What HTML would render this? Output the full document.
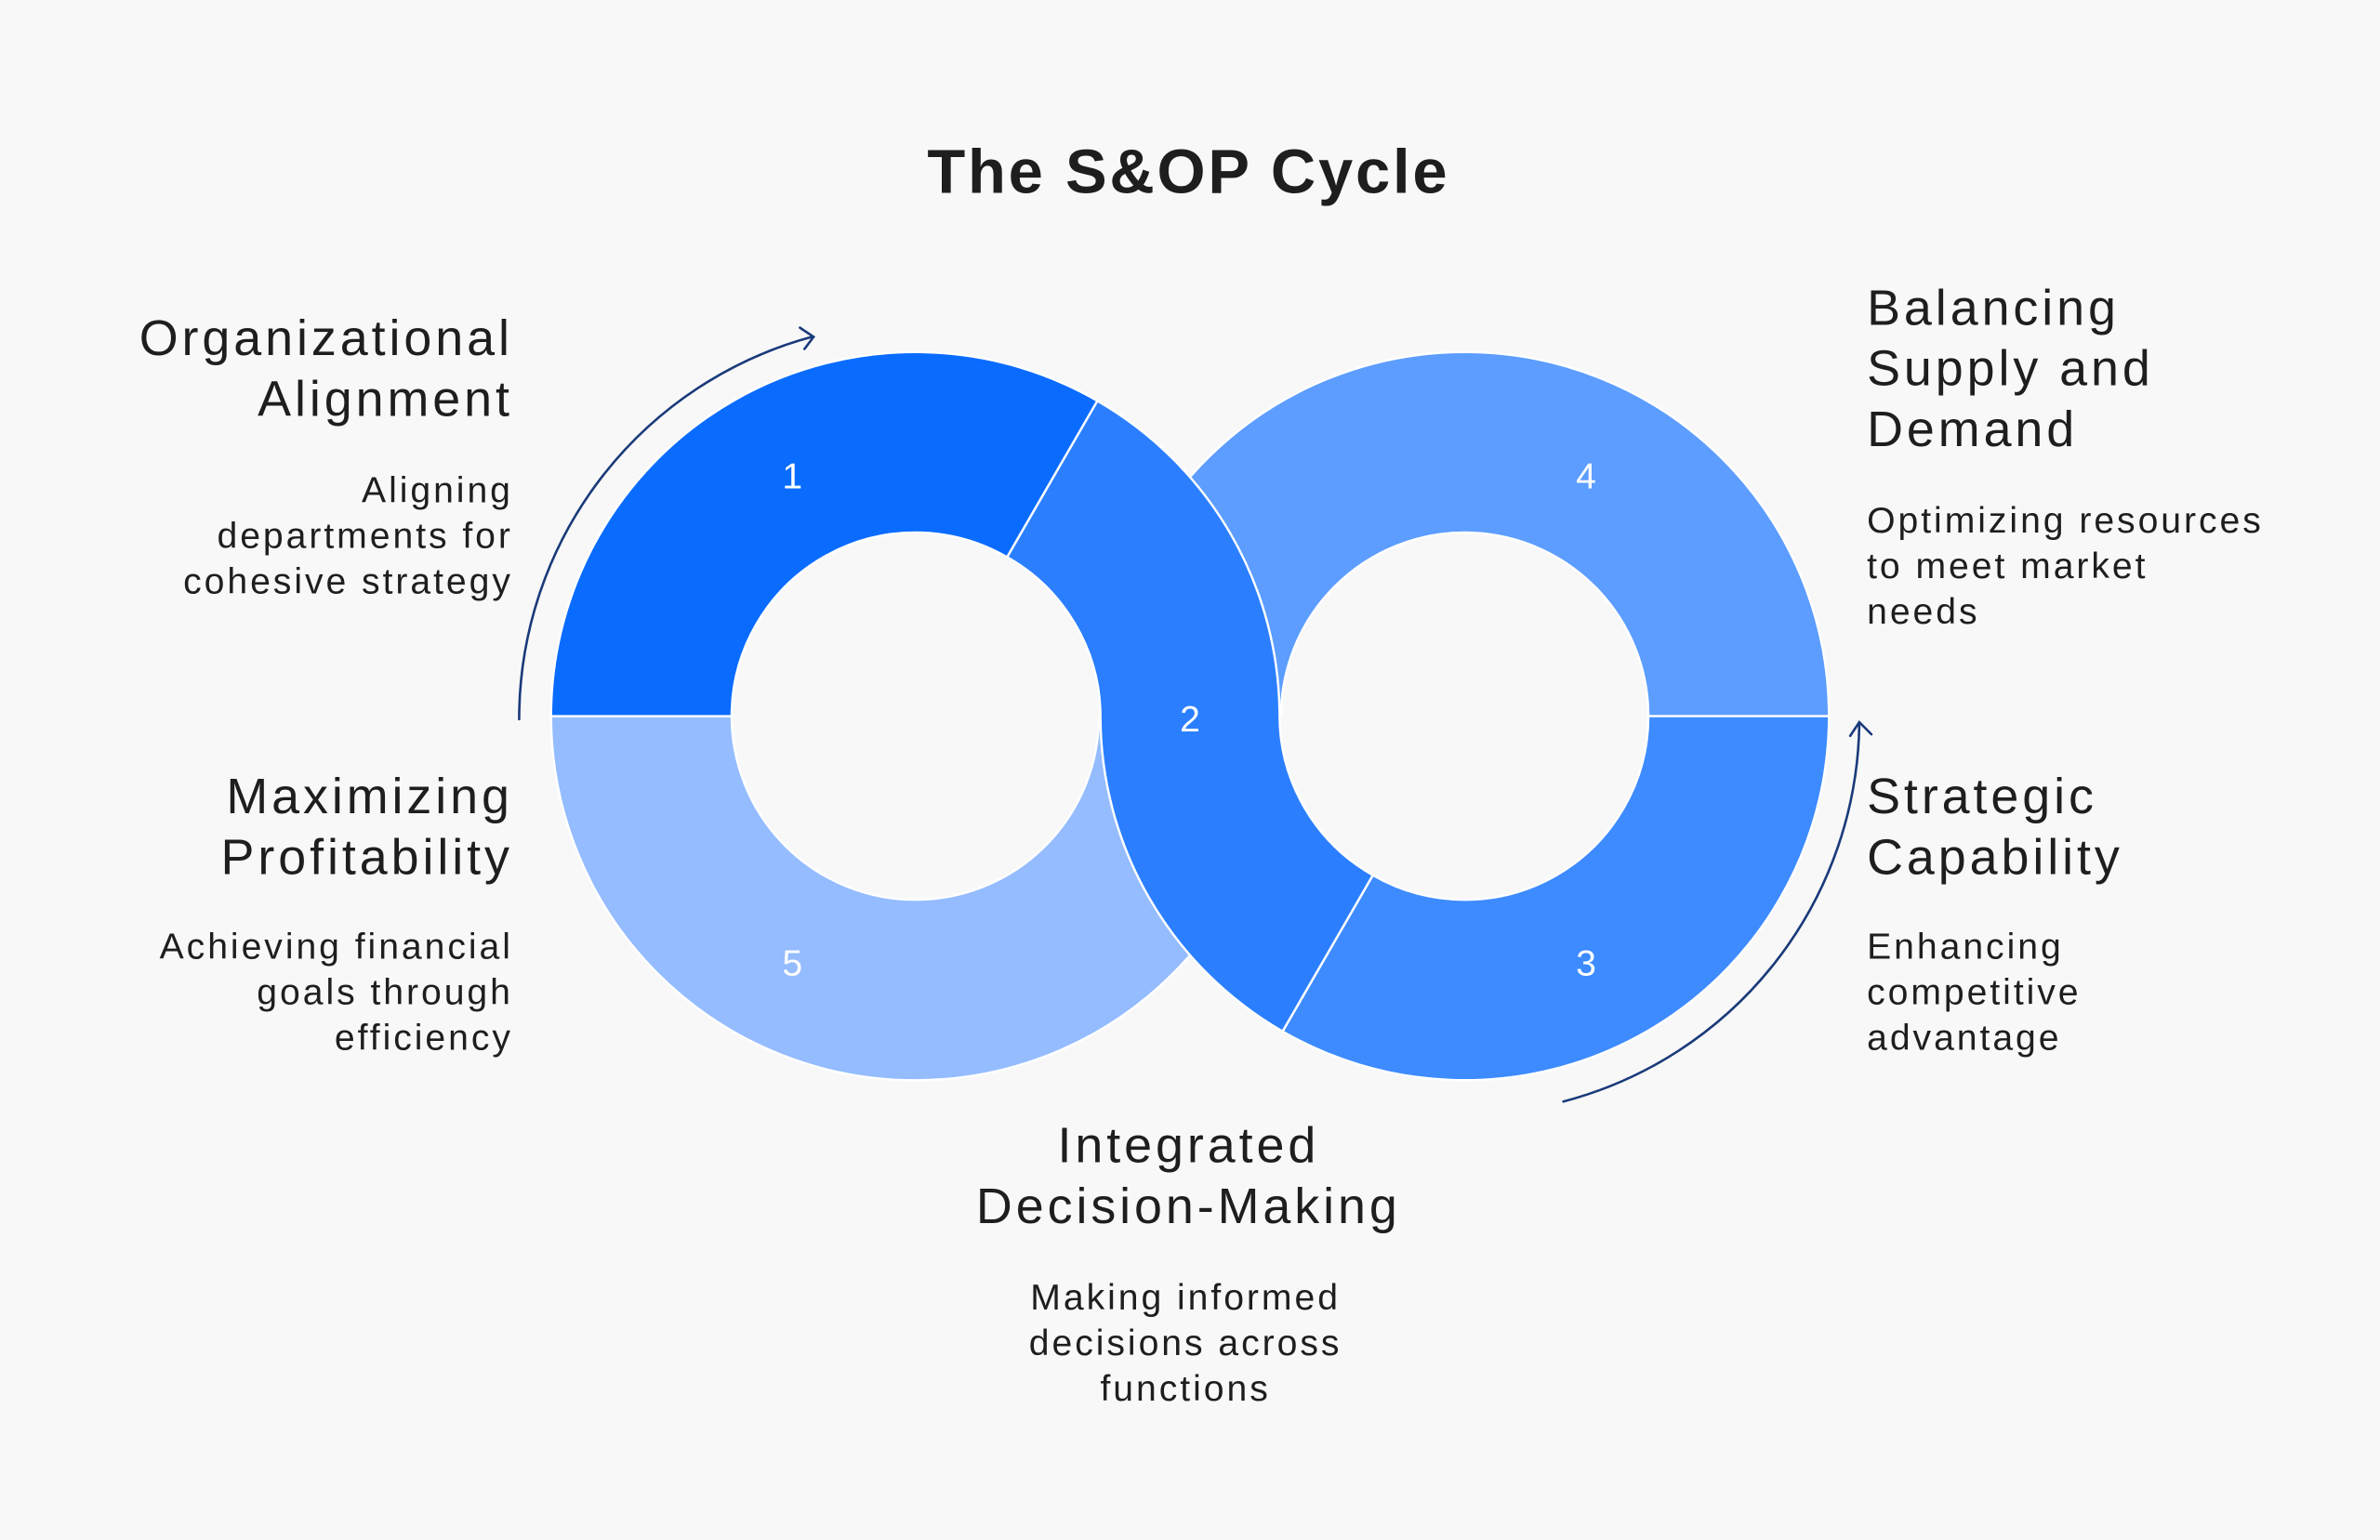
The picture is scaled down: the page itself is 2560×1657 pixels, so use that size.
<!DOCTYPE html>
<html><head><meta charset="utf-8"><style>
html,body{margin:0;padding:0;background:#f8f8f8;}
svg{display:block;}
text{font-family:"Liberation Sans",sans-serif;}
</style></head><body>
<svg width="2560" height="1657" viewBox="0 0 1568 1015" xmlns="http://www.w3.org/2000/svg">
<rect width="1568" height="1015" fill="#f8f8f8"/>
<text x="783" y="127" text-anchor="middle" font-size="41" font-weight="bold" fill="#1e1e1e" letter-spacing="1.7">The S&amp;OP Cycle</text>
<g stroke="#ffffff" stroke-width="1.5" stroke-linejoin="round">
<path d="M843,472 A240,240 0 0 1 363,472 L482,472 A121,121 0 0 0 724,472 Z" fill="#94bcff"/>
<path d="M725,472 A240,240 0 0 1 1205,472 L1086,472 A121,121 0 0 0 844,472 Z" fill="#5c9dff"/>
<path d="M363,472 A240,240 0 0 1 723,264.2 L663.5,367.2 A121,121 0 0 0 482,472 Z" fill="#0a6cff"/>
<path d="M1205,472 A240,240 0 0 1 845,679.8 L904.5,576.8 A121,121 0 0 0 1086,472 Z" fill="#3d8bff"/>
<path d="M723,264.2 A240,240 0 0 1 843,472 A121,121 0 0 0 904.5,576.8 L845,679.8 A240,240 0 0 1 725,472 A121,121 0 0 0 663.5,367.2 Z" fill="#2b7fff"/>
</g>
<g fill="#ffffff" font-size="24" text-anchor="middle">
<text x="522" y="322">1</text>
<text x="784" y="482">2</text>
<text x="1045" y="643">3</text>
<text x="1045" y="322">4</text>
<text x="522" y="643">5</text>
</g>
<g fill="none" stroke="#1a3a7a" stroke-width="1.6" stroke-linecap="round">
<path d="M342,474 A261,261 0 0 1 535,222"/>
<path d="M527,216 L536,222 L530,230"/>
<path d="M1030,726 A261,261 0 0 0 1225,477"/>
<path d="M1219,485 L1225,476 L1233,484"/>
</g>
<g fill="#1e1e1e" font-size="33" letter-spacing="2.4">
<text x="338" y="234" text-anchor="end">Organizational</text>
<text x="338" y="274" text-anchor="end">Alignment</text>
<text x="338" y="536" text-anchor="end">Maximizing</text>
<text x="338" y="576" text-anchor="end">Profitability</text>
<text x="1230" y="214">Balancing</text>
<text x="1230" y="254">Supply and</text>
<text x="1230" y="294">Demand</text>
<text x="1230" y="536">Strategic</text>
<text x="1230" y="576">Capability</text>
<text x="783" y="766" text-anchor="middle">Integrated</text>
<text x="783" y="806" text-anchor="middle">Decision-Making</text>
</g>
<g fill="#1e1e1e" font-size="24" letter-spacing="1.8">
<text x="338" y="331" text-anchor="end">Aligning</text>
<text x="338" y="361" text-anchor="end">departments for</text>
<text x="338" y="391" text-anchor="end">cohesive strategy</text>
<text x="338" y="632" text-anchor="end">Achieving financial</text>
<text x="338" y="662" text-anchor="end">goals through</text>
<text x="338" y="692" text-anchor="end">efficiency</text>
<text x="1230" y="351">Optimizing resources</text>
<text x="1230" y="381">to meet market</text>
<text x="1230" y="411">needs</text>
<text x="1230" y="632">Enhancing</text>
<text x="1230" y="662">competitive</text>
<text x="1230" y="692">advantage</text>
<text x="781" y="863" text-anchor="middle">Making informed</text>
<text x="781" y="893" text-anchor="middle">decisions across</text>
<text x="781" y="923" text-anchor="middle">functions</text>
</g>
</svg>
</body></html>
